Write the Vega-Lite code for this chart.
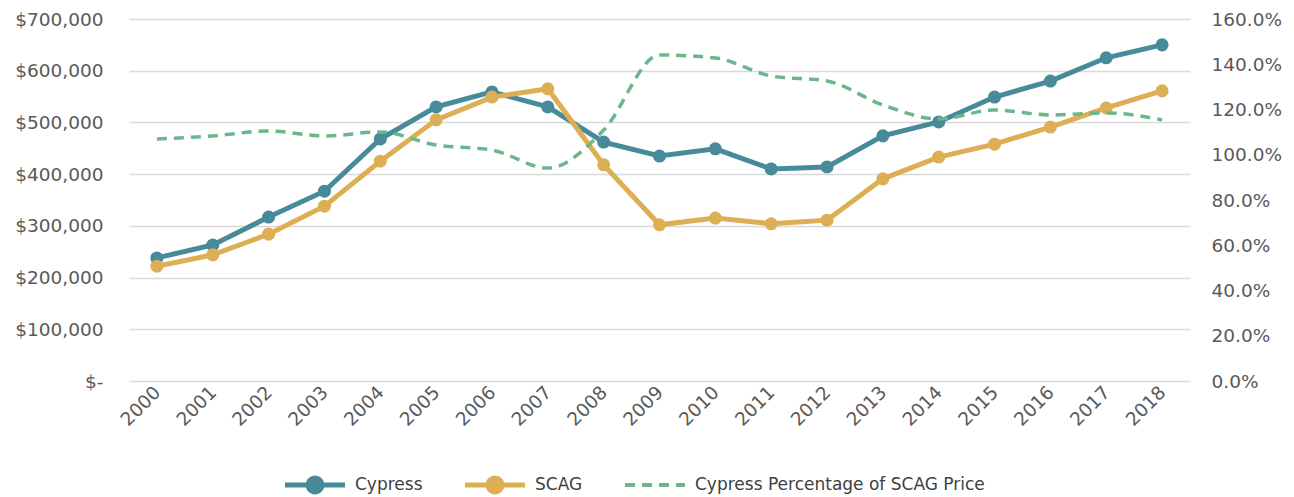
{
  "$schema": "https://vega.github.io/schema/vega-lite/v6.json",
  "autosize": {"type": "none"},
  "width": 1061,
  "height": 362,
  "padding": {"left": 129, "top": 19, "right": 104, "bottom": 116},
  "background": "white",
  "config": {
    "view": {"stroke": null},
    "font": "DejaVu Sans",
    "axis": {"labelFont": "DejaVu Sans", "labelFontSize": 18.5, "labelColor": "#595959", "ticks": false, "domain": false, "labelOverlap": false},
    "legend": {"labelFont": "DejaVu Sans", "labelFontSize": 17, "labelColor": "#404040", "labelLimit": 500}
  },
  "data": {
    "values": [
      {"year": "2000", "Cypress": 238000, "SCAG": 222000, "pct": 1.070},
      {"year": "2001", "Cypress": 263000, "SCAG": 244000, "pct": 1.083},
      {"year": "2002", "Cypress": 317000, "SCAG": 284000, "pct": 1.105},
      {"year": "2003", "Cypress": 367000, "SCAG": 338000, "pct": 1.083},
      {"year": "2004", "Cypress": 468000, "SCAG": 425000, "pct": 1.101},
      {"year": "2005", "Cypress": 530000, "SCAG": 505000, "pct": 1.043},
      {"year": "2006", "Cypress": 559000, "SCAG": 549000, "pct": 1.021},
      {"year": "2007", "Cypress": 530000, "SCAG": 565000, "pct": 0.941},
      {"year": "2008", "Cypress": 462000, "SCAG": 418000, "pct": 1.109},
      {"year": "2009", "Cypress": 435000, "SCAG": 302000, "pct": 1.441},
      {"year": "2010", "Cypress": 449000, "SCAG": 315000, "pct": 1.428},
      {"year": "2011", "Cypress": 410000, "SCAG": 304000, "pct": 1.348},
      {"year": "2012", "Cypress": 414000, "SCAG": 311000, "pct": 1.326},
      {"year": "2013", "Cypress": 474000, "SCAG": 391000, "pct": 1.220},
      {"year": "2014", "Cypress": 501000, "SCAG": 433000, "pct": 1.158},
      {"year": "2015", "Cypress": 549000, "SCAG": 458000, "pct": 1.198},
      {"year": "2016", "Cypress": 580000, "SCAG": 491000, "pct": 1.176},
      {"year": "2017", "Cypress": 625000, "SCAG": 528000, "pct": 1.185},
      {"year": "2018", "Cypress": 650000, "SCAG": 561000, "pct": 1.154}
    ]
  },
  "encoding": {
    "x": {
      "field": "year", "type": "ordinal",
      "scale": {"type": "point", "padding": 0.5},
      "axis": {"title": null, "labelAngle": -45, "labelAlign": "right", "labelBaseline": "middle", "labelPadding": 8, "grid": false}
    }
  },
  "layer": [
    {
      "transform": [{"fold": ["Cypress", "SCAG"], "as": ["series", "price"]}],
      "mark": {"type": "line", "strokeWidth": 5, "point": {"size": 170, "filled": true, "opacity": 1}},
      "encoding": {
        "y": {
          "field": "price", "type": "quantitative",
          "scale": {"domain": [0, 700000], "nice": false},
          "axis": {"title": null, "values": [0,100000,200000,300000,400000,500000,600000,700000], "grid": true, "gridColor": "#D9D9D9", "gridWidth": 1.5, "labelPadding": 26,
            "labelExpr": "datum.value == 0 ? '$-\u00a0\u00a0' : format(datum.value, '$,.0f')"}
        },
        "color": {
          "field": "series", "type": "nominal",
          "scale": {"domain": ["Cypress", "SCAG", "Cypress Percentage of SCAG Price"], "range": ["#478A99", "#DDAF55", "#6DB68A"]},
          "legend": {
            "title": null, "orient": "none", "direction": "horizontal", "legendX": 156, "legendY": 455,
            "symbolSize": 3600, "symbolStrokeWidth": 5, "labelOffset": 10, "columnPadding": 42, "clipHeight": 22,
            "encode": {
              "symbols": {
                "update": {
                  "x": {"value": 30},
                  "size": {"value": 3600},
                  "shape": {"signal": "datum.value == 'Cypress Percentage of SCAG Price' ? 'M-1,0L1,0' : 'M-1,0L1,0M0.23,0A0.23,0.23 0 1 1 -0.23,0A0.23,0.23 0 1 1 0.23,0'"},
                  "fill": {"signal": "datum.value == 'Cypress' ? '#478A99' : datum.value == 'SCAG' ? '#DDAF55' : 'transparent'"},
                  "strokeWidth": {"signal": "datum.value == 'Cypress Percentage of SCAG Price' ? 4 : 5"},
                  "strokeDash": {"signal": "datum.value == 'Cypress Percentage of SCAG Price' ? [10, 7] : [1, 0]"},
                  "fillOpacity": {"value": 1},
                  "opacity": {"value": 1}
                }
              },
              "labels": {
                "update": {
                  "x": {"value": 70}
                }
              }
            }
          }
        }
      }
    },
    {
      "transform": [{"calculate": "'Cypress Percentage of SCAG Price'", "as": "series"}],
      "mark": {"type": "line", "strokeWidth": 3.5, "strokeDash": [10, 7], "interpolate": "monotone"},
      "encoding": {
        "y": {
          "field": "pct", "type": "quantitative",
          "scale": {"domain": [0, 1.6], "nice": false},
          "axis": {"title": null, "orient": "right", "values": [0,0.2,0.4,0.6,0.8,1.0,1.2,1.4,1.6], "format": ".1%", "grid": false, "labelPadding": 21}
        },
        "color": {"field": "series", "type": "nominal"}
      }
    }
  ],
  "resolve": {"scale": {"y": "independent"}}
}
